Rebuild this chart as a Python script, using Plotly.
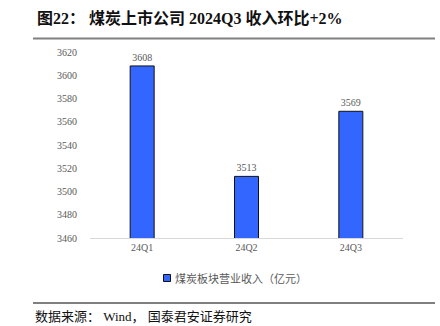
import plotly.graph_objects as go

categories = ["24Q1", "24Q2", "24Q3"]
values = [3608, 3513, 3569]
series_name = "煤炭板块营业收入（亿元）"
title_text = "图22：&nbsp;煤炭上市公司 2024Q3 收入环比+2%"
source_text = "数据来源：&nbsp;Wind，&nbsp;国泰君安证券研究"
tick_vals = [3460, 3480, 3500, 3520, 3540, 3560, 3580, 3600, 3620]

serif = "Liberation Serif, Noto Sans CJK SC, serif"
bar_color = "#3366FF"

PL, PR, PT, PB = 90, 403, 52, 238
W, H = PR - PL, PB - PT


def px(x):
    return (x - PL) / W


def py(y):
    return (PB - y) / H


fig = go.Figure()
fig.add_trace(go.Bar(
    x=categories, y=values, name=series_name,
    marker=dict(color=bar_color, line=dict(color="#111111", width=1)),
    width=0.23,
    text=[str(v) for v in values], textposition="outside",
    textfont=dict(family=serif, size=10, color="#595959"),
    cliponaxis=False, showlegend=False,
))

fig.update_layout(
    width=440, height=326,
    margin=dict(l=PL, r=440 - PR, t=PT, b=326 - PB),
    paper_bgcolor="white", plot_bgcolor="white",
    showlegend=False,
    xaxis=dict(showline=True, linecolor="#D9D9D9", linewidth=1, ticks="",
               tickfont=dict(family=serif, size=10, color="#595959"), showgrid=False),
    yaxis=dict(range=[3460, 3620], tickvals=tick_vals, showgrid=False, showline=False,
               zeroline=False, ticks="", ticklabelstandoff=12,
               tickfont=dict(family=serif, size=10, color="#595959")),
)

# title
fig.add_annotation(text="<b>" + title_text + "</b>", xref="paper", yref="paper",
                   x=px(35), y=py(18), xanchor="left", yanchor="middle",
                   showarrow=False, font=dict(family=serif, size=16, color="#111111"))
# source
fig.add_annotation(text=source_text, xref="paper", yref="paper",
                   x=px(33), y=py(316), xanchor="left", yanchor="middle",
                   showarrow=False, font=dict(family=serif, size=13, color="#111111"))
# rules
for yy in (38.5, 303):
    fig.add_shape(type="line", xref="paper", yref="paper",
                  x0=px(33), x1=px(435), y0=py(yy), y1=py(yy),
                  line=dict(color="#808080", width=2))
# legend: small square + text
fig.add_shape(type="rect", xref="paper", yref="paper",
              x0=px(163.5), x1=px(170.5), y0=py(274.5), y1=py(281.5),
              fillcolor=bar_color, line=dict(color="#111111", width=1))
fig.add_annotation(text=series_name, xref="paper", yref="paper",
                   x=px(173), y=py(278), xanchor="left", yanchor="middle",
                   showarrow=False, font=dict(family=serif, size=11, color="#595959"))

fig.write_html("out.html")
